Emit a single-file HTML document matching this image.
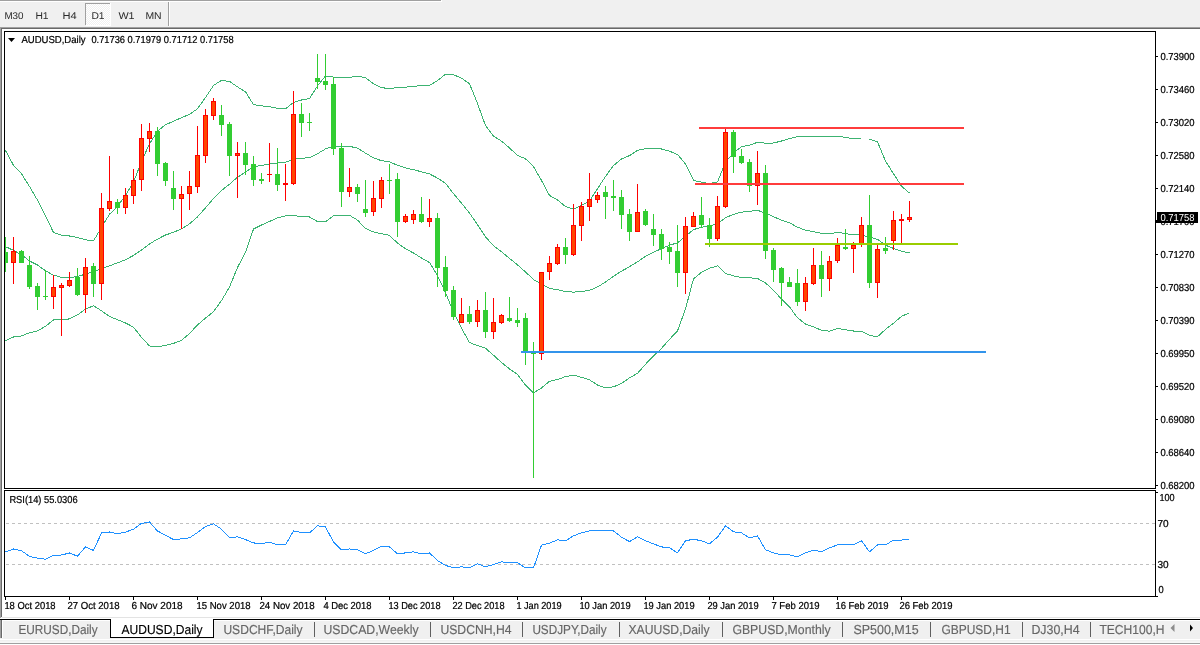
<!DOCTYPE html>
<html><head><meta charset="utf-8"><title>AUDUSD,Daily</title>
<style>
html,body{margin:0;padding:0;width:1200px;height:645px;overflow:hidden;background:#f0f0f0;}
svg{display:block;}
text{white-space:pre;}
</style></head><body>
<svg width="1200" height="645" viewBox="0 0 1200 645" text-rendering="geometricPrecision">
<rect x="0" y="0" width="1200" height="645" fill="#f0f0f0"/>
<rect x="0" y="0" width="441" height="1" fill="#a0a0a0"/>
<rect x="0" y="1" width="442" height="1" fill="#ffffff"/>
<rect x="441" y="0" width="1" height="2" fill="#ffffff"/>
<defs><pattern id="dith" width="2" height="2" patternUnits="userSpaceOnUse"><rect width="2" height="2" fill="#f0f0f0"/><rect width="1" height="1" fill="#ffffff"/><rect x="1" y="1" width="1" height="1" fill="#ffffff"/></pattern></defs>
<rect x="85" y="3" width="25" height="22" fill="url(#dith)"/>
<rect x="85" y="3" width="25" height="1" fill="#a0a0a0"/>
<rect x="85" y="3" width="1" height="22" fill="#a0a0a0"/>
<rect x="86" y="25" width="25" height="1" fill="#ffffff"/>
<rect x="110" y="3" width="1" height="23" fill="#ffffff"/>
<rect x="168" y="2" width="1" height="24" fill="#a0a0a0"/>
<rect x="169" y="2" width="1" height="24" fill="#ffffff"/>
<text x="4.40" y="18.50" font-size="9.8" fill="#2a2a2a" font-family="Liberation Sans, sans-serif" textLength="19.20" lengthAdjust="spacingAndGlyphs">M30</text>
<text x="35.40" y="18.50" font-size="9.8" fill="#2a2a2a" font-family="Liberation Sans, sans-serif" textLength="13.20" lengthAdjust="spacingAndGlyphs">H1</text>
<text x="62.40" y="18.50" font-size="9.8" fill="#2a2a2a" font-family="Liberation Sans, sans-serif" textLength="14.20" lengthAdjust="spacingAndGlyphs">H4</text>
<text x="91.40" y="18.50" font-size="9.8" fill="#2a2a2a" font-family="Liberation Sans, sans-serif" textLength="13.20" lengthAdjust="spacingAndGlyphs">D1</text>
<text x="118.40" y="18.50" font-size="9.8" fill="#2a2a2a" font-family="Liberation Sans, sans-serif" textLength="16.20" lengthAdjust="spacingAndGlyphs">W1</text>
<text x="145.40" y="18.50" font-size="9.8" fill="#2a2a2a" font-family="Liberation Sans, sans-serif" textLength="16.20" lengthAdjust="spacingAndGlyphs">MN</text>
<rect x="0" y="27" width="1200" height="1" fill="#a0a0a0"/>
<rect x="1" y="28" width="1199" height="1" fill="#696969"/>
<rect x="0" y="27" width="1" height="611" fill="#a0a0a0"/>
<rect x="1" y="28" width="1" height="589" fill="#696969"/>
<rect x="2" y="29" width="1198" height="588" fill="#ffffff"/>
<rect x="2" y="617" width="1198" height="1" fill="#e3e3e3"/>
<rect x="0" y="618" width="1200" height="1" fill="#ffffff"/>
<rect x="4" y="31" width="1152" height="1" fill="#000"/>
<rect x="4" y="488" width="1152" height="1" fill="#000"/>
<rect x="4" y="31" width="1" height="458" fill="#000"/>
<rect x="1155" y="31" width="1" height="458" fill="#000"/>
<rect x="4" y="490" width="1152" height="1" fill="#000"/>
<rect x="4" y="596" width="1152" height="1" fill="#000"/>
<rect x="4" y="490" width="1" height="107" fill="#000"/>
<rect x="1155" y="490" width="1" height="107" fill="#000"/>
<defs><clipPath id="mc"><rect x="5" y="32" width="1150" height="456"/></clipPath><clipPath id="rc"><rect x="5" y="491" width="1150" height="105"/></clipPath></defs>
<g clip-path="url(#mc)" shape-rendering="crispEdges">
<polyline points="5.5,150.5 13.5,165.3 21.5,173.8 29.5,186.5 37.5,200.2 45.5,216.0 53.5,232.5 61.5,235.3 69.5,236.0 77.5,237.5 85.5,239.8 93.5,240.9 101.5,227.5 109.5,214.2 117.5,206.5 125.5,195.4 133.5,182.2 141.5,161.5 149.5,143.9 157.5,131.2 165.5,124.7 173.5,121.3 181.5,117.6 189.5,114.4 197.5,108.8 205.5,97.6 213.5,85.4 221.5,80.4 229.5,81.4 237.5,86.9 245.5,91.8 253.5,104.7 261.5,105.9 269.5,106.7 277.5,108.2 285.5,108.8 293.5,102.4 301.5,100.0 309.5,98.6 317.5,85.9 325.5,76.0 333.5,77.1 341.5,77.4 349.5,77.3 357.5,76.3 365.5,77.6 373.5,83.9 381.5,87.7 389.5,88.5 397.5,87.6 405.5,87.1 413.5,86.4 421.5,85.5 429.5,85.4 437.5,80.6 445.5,74.3 453.5,74.8 461.5,78.1 469.5,83.7 477.5,103.5 485.5,125.5 493.5,136.0 501.5,141.1 509.5,148.0 517.5,155.4 525.5,158.8 533.5,166.5 541.5,180.5 549.5,195.5 557.5,199.9 565.5,206.6 573.5,209.1 581.5,205.5 589.5,201.0 597.5,188.7 605.5,176.4 613.5,165.6 621.5,158.9 629.5,155.6 637.5,150.3 645.5,148.6 653.5,148.2 661.5,149.0 669.5,151.2 677.5,154.5 685.5,163.9 693.5,180.4 701.5,182.1 709.5,183.6 717.5,182.0 725.5,162.2 733.5,152.8 741.5,146.7 749.5,145.1 757.5,142.3 765.5,143.2 773.5,143.0 781.5,141.0 789.5,138.7 797.5,136.7 805.5,136.4 813.5,136.7 821.5,136.2 829.5,136.3 837.5,136.4 845.5,137.3 853.5,138.9 861.5,139.0 869.5,139.0 877.5,142.0 885.5,161.1 893.5,173.7 901.5,186.2 909.5,193.0" fill="none" stroke="#3cb371" stroke-width="1"/>
<polyline points="5.5,246.6 13.5,250.4 21.5,254.7 29.5,261.0 37.5,265.0 45.5,270.8 53.5,275.2 61.5,277.3 69.5,277.8 77.5,276.5 85.5,274.1 93.5,271.4 101.5,268.8 109.5,265.8 117.5,262.8 125.5,259.8 133.5,255.4 141.5,250.1 149.5,243.9 157.5,239.1 165.5,235.0 173.5,232.3 181.5,228.9 189.5,223.9 197.5,216.9 205.5,207.8 213.5,198.6 221.5,190.5 229.5,184.2 237.5,177.2 245.5,172.1 253.5,166.8 261.5,165.4 269.5,164.1 277.5,162.9 285.5,162.3 293.5,159.1 301.5,158.2 309.5,157.8 317.5,153.7 325.5,148.9 333.5,146.4 341.5,146.2 349.5,146.3 357.5,148.2 365.5,153.1 373.5,157.9 381.5,160.7 389.5,161.9 397.5,165.3 405.5,167.9 413.5,169.7 421.5,171.8 429.5,173.9 437.5,178.1 445.5,183.4 453.5,193.6 461.5,203.2 469.5,213.1 477.5,224.6 485.5,236.9 493.5,245.6 501.5,251.8 509.5,258.4 517.5,264.9 525.5,271.9 533.5,279.6 541.5,284.2 549.5,288.4 557.5,289.7 565.5,291.6 573.5,292.1 581.5,291.4 589.5,290.4 597.5,286.9 605.5,282.1 613.5,276.2 621.5,271.2 629.5,266.7 637.5,261.8 645.5,256.4 653.5,252.1 661.5,248.7 669.5,245.2 677.5,242.8 685.5,236.4 693.5,229.6 701.5,227.2 709.5,225.9 717.5,223.9 725.5,217.8 733.5,214.3 741.5,212.2 749.5,211.4 757.5,210.3 765.5,213.1 773.5,216.7 781.5,220.1 789.5,222.8 797.5,227.2 805.5,230.2 813.5,231.8 821.5,233.2 829.5,233.8 837.5,232.4 845.5,233.5 853.5,234.9 861.5,235.0 869.5,237.2 877.5,239.3 885.5,245.2 893.5,248.4 901.5,251.3 909.5,252.9" fill="none" stroke="#3cb371" stroke-width="1"/>
<polyline points="5.5,340.7 13.5,337.0 21.5,335.9 29.5,332.8 37.5,330.9 45.5,326.3 53.5,320.0 61.5,319.8 69.5,318.9 77.5,314.9 85.5,309.1 93.5,305.7 101.5,310.8 109.5,316.4 117.5,319.7 125.5,323.0 133.5,327.1 141.5,337.5 149.5,345.9 157.5,347.0 165.5,345.3 173.5,343.4 181.5,340.3 189.5,333.5 197.5,325.0 205.5,318.1 213.5,311.7 221.5,300.6 229.5,287.1 237.5,267.5 245.5,252.3 253.5,229.0 261.5,225.0 269.5,221.5 277.5,217.7 285.5,215.9 293.5,215.7 301.5,216.5 309.5,217.0 317.5,221.5 325.5,221.8 333.5,215.7 341.5,215.1 349.5,215.3 357.5,220.1 365.5,228.5 373.5,231.9 381.5,233.7 389.5,235.4 397.5,243.1 405.5,248.8 413.5,253.0 421.5,258.0 429.5,262.5 437.5,275.6 445.5,292.6 453.5,312.3 461.5,328.2 469.5,342.5 477.5,345.6 485.5,348.3 493.5,355.2 501.5,362.5 509.5,368.9 517.5,374.4 525.5,385.0 533.5,392.8 541.5,388.0 549.5,381.3 557.5,379.5 565.5,376.6 573.5,375.2 581.5,377.3 589.5,379.9 597.5,385.0 605.5,387.9 613.5,386.8 621.5,383.5 629.5,377.8 637.5,373.3 645.5,364.3 653.5,355.9 661.5,348.4 669.5,339.3 677.5,331.0 685.5,309.0 693.5,278.8 701.5,272.3 709.5,268.3 717.5,265.8 725.5,273.4 733.5,275.9 741.5,277.6 749.5,277.8 757.5,278.4 765.5,282.9 773.5,290.3 781.5,299.1 789.5,306.9 797.5,317.8 805.5,324.0 813.5,326.8 821.5,330.3 829.5,331.2 837.5,328.4 845.5,329.7 853.5,331.0 861.5,331.0 869.5,335.4 877.5,336.7 885.5,329.4 893.5,323.2 901.5,316.4 909.5,312.8" fill="none" stroke="#3cb371" stroke-width="1"/>
<rect x="5" y="237" width="1" height="35" fill="#32cd32"/>
<rect x="3" y="252" width="5" height="11" fill="#32cd32"/>
<rect x="13" y="237" width="1" height="47" fill="#ff0000"/>
<rect x="11" y="251" width="5" height="12" fill="#ff0000"/>
<rect x="12" y="252" width="3" height="10" fill="#ff4500"/>
<rect x="21" y="250" width="1" height="13" fill="#32cd32"/>
<rect x="19" y="251" width="5" height="12" fill="#32cd32"/>
<rect x="29" y="256" width="1" height="33" fill="#32cd32"/>
<rect x="27" y="265" width="5" height="22" fill="#32cd32"/>
<rect x="37" y="283" width="1" height="27" fill="#32cd32"/>
<rect x="35" y="286" width="5" height="11" fill="#32cd32"/>
<rect x="45" y="270" width="1" height="30" fill="#32cd32"/>
<rect x="43" y="296" width="5" height="1" fill="#32cd32"/>
<rect x="53" y="275" width="1" height="34" fill="#ff0000"/>
<rect x="51" y="287" width="5" height="10" fill="#ff0000"/>
<rect x="52" y="288" width="3" height="8" fill="#ff4500"/>
<rect x="61" y="283" width="1" height="53" fill="#ff0000"/>
<rect x="59" y="285" width="5" height="3" fill="#ff0000"/>
<rect x="60" y="286" width="3" height="1" fill="#ff4500"/>
<rect x="69" y="272" width="1" height="15" fill="#ff0000"/>
<rect x="67" y="280" width="5" height="6" fill="#ff0000"/>
<rect x="68" y="281" width="3" height="4" fill="#ff4500"/>
<rect x="77" y="268" width="1" height="28" fill="#32cd32"/>
<rect x="75" y="277" width="5" height="18" fill="#32cd32"/>
<rect x="85" y="258" width="1" height="55" fill="#ff0000"/>
<rect x="83" y="267" width="5" height="28" fill="#ff0000"/>
<rect x="84" y="268" width="3" height="26" fill="#ff4500"/>
<rect x="93" y="263" width="1" height="34" fill="#32cd32"/>
<rect x="91" y="266" width="5" height="18" fill="#32cd32"/>
<rect x="101" y="193" width="1" height="107" fill="#ff0000"/>
<rect x="99" y="208" width="5" height="76" fill="#ff0000"/>
<rect x="100" y="209" width="3" height="74" fill="#ff4500"/>
<rect x="109" y="156" width="1" height="55" fill="#ff0000"/>
<rect x="107" y="201" width="5" height="8" fill="#ff0000"/>
<rect x="108" y="202" width="3" height="6" fill="#ff4500"/>
<rect x="117" y="199" width="1" height="15" fill="#32cd32"/>
<rect x="115" y="202" width="5" height="6" fill="#32cd32"/>
<rect x="125" y="188" width="1" height="26" fill="#ff0000"/>
<rect x="123" y="195" width="5" height="13" fill="#ff0000"/>
<rect x="124" y="196" width="3" height="11" fill="#ff4500"/>
<rect x="133" y="169" width="1" height="35" fill="#ff0000"/>
<rect x="131" y="180" width="5" height="16" fill="#ff0000"/>
<rect x="132" y="181" width="3" height="14" fill="#ff4500"/>
<rect x="141" y="124" width="1" height="67" fill="#ff0000"/>
<rect x="139" y="138" width="5" height="42" fill="#ff0000"/>
<rect x="140" y="139" width="3" height="40" fill="#ff4500"/>
<rect x="149" y="123" width="1" height="29" fill="#ff0000"/>
<rect x="147" y="131" width="5" height="8" fill="#ff0000"/>
<rect x="148" y="132" width="3" height="6" fill="#ff4500"/>
<rect x="157" y="127" width="1" height="49" fill="#32cd32"/>
<rect x="155" y="131" width="5" height="33" fill="#32cd32"/>
<rect x="165" y="162" width="1" height="24" fill="#32cd32"/>
<rect x="163" y="163" width="5" height="18" fill="#32cd32"/>
<rect x="173" y="171" width="1" height="39" fill="#32cd32"/>
<rect x="171" y="188" width="5" height="11" fill="#32cd32"/>
<rect x="181" y="186" width="1" height="43" fill="#ff0000"/>
<rect x="179" y="194" width="5" height="5" fill="#ff0000"/>
<rect x="180" y="195" width="3" height="3" fill="#ff4500"/>
<rect x="189" y="171" width="1" height="39" fill="#ff0000"/>
<rect x="187" y="186" width="5" height="8" fill="#ff0000"/>
<rect x="188" y="187" width="3" height="6" fill="#ff4500"/>
<rect x="197" y="126" width="1" height="67" fill="#ff0000"/>
<rect x="195" y="155" width="5" height="32" fill="#ff0000"/>
<rect x="196" y="156" width="3" height="30" fill="#ff4500"/>
<rect x="205" y="109" width="1" height="54" fill="#ff0000"/>
<rect x="203" y="115" width="5" height="41" fill="#ff0000"/>
<rect x="204" y="116" width="3" height="39" fill="#ff4500"/>
<rect x="213" y="98" width="1" height="22" fill="#ff0000"/>
<rect x="211" y="101" width="5" height="15" fill="#ff0000"/>
<rect x="212" y="102" width="3" height="13" fill="#ff4500"/>
<rect x="221" y="105" width="1" height="31" fill="#32cd32"/>
<rect x="219" y="115" width="5" height="10" fill="#32cd32"/>
<rect x="229" y="122" width="1" height="54" fill="#32cd32"/>
<rect x="227" y="124" width="5" height="32" fill="#32cd32"/>
<rect x="237" y="142" width="1" height="56" fill="#ff0000"/>
<rect x="235" y="153" width="5" height="3" fill="#ff0000"/>
<rect x="236" y="154" width="3" height="1" fill="#ff4500"/>
<rect x="245" y="142" width="1" height="33" fill="#32cd32"/>
<rect x="243" y="153" width="5" height="12" fill="#32cd32"/>
<rect x="253" y="156" width="1" height="30" fill="#32cd32"/>
<rect x="251" y="164" width="5" height="16" fill="#32cd32"/>
<rect x="261" y="173" width="1" height="11" fill="#32cd32"/>
<rect x="259" y="179" width="5" height="2" fill="#32cd32"/>
<rect x="269" y="143" width="1" height="39" fill="#ff0000"/>
<rect x="267" y="174" width="5" height="1" fill="#ff0000"/>
<rect x="277" y="148" width="1" height="43" fill="#32cd32"/>
<rect x="275" y="174" width="5" height="11" fill="#32cd32"/>
<rect x="285" y="164" width="1" height="37" fill="#ff0000"/>
<rect x="283" y="183" width="5" height="2" fill="#ff0000"/>
<rect x="293" y="91" width="1" height="94" fill="#ff0000"/>
<rect x="291" y="114" width="5" height="70" fill="#ff0000"/>
<rect x="292" y="115" width="3" height="68" fill="#ff4500"/>
<rect x="301" y="103" width="1" height="34" fill="#32cd32"/>
<rect x="299" y="114" width="5" height="9" fill="#32cd32"/>
<rect x="309" y="113" width="1" height="18" fill="#32cd32"/>
<rect x="307" y="122" width="5" height="1" fill="#32cd32"/>
<rect x="317" y="54" width="1" height="35" fill="#32cd32"/>
<rect x="315" y="78" width="5" height="4" fill="#32cd32"/>
<rect x="325" y="54" width="1" height="36" fill="#32cd32"/>
<rect x="323" y="81" width="5" height="4" fill="#32cd32"/>
<rect x="333" y="77" width="1" height="78" fill="#32cd32"/>
<rect x="331" y="84" width="5" height="65" fill="#32cd32"/>
<rect x="341" y="143" width="1" height="64" fill="#32cd32"/>
<rect x="339" y="148" width="5" height="44" fill="#32cd32"/>
<rect x="349" y="168" width="1" height="29" fill="#ff0000"/>
<rect x="347" y="187" width="5" height="5" fill="#ff0000"/>
<rect x="348" y="188" width="3" height="3" fill="#ff4500"/>
<rect x="357" y="184" width="1" height="18" fill="#32cd32"/>
<rect x="355" y="187" width="5" height="7" fill="#32cd32"/>
<rect x="365" y="180" width="1" height="37" fill="#32cd32"/>
<rect x="363" y="209" width="5" height="4" fill="#32cd32"/>
<rect x="373" y="181" width="1" height="35" fill="#ff0000"/>
<rect x="371" y="198" width="5" height="14" fill="#ff0000"/>
<rect x="372" y="199" width="3" height="12" fill="#ff4500"/>
<rect x="381" y="177" width="1" height="31" fill="#ff0000"/>
<rect x="379" y="180" width="5" height="19" fill="#ff0000"/>
<rect x="380" y="181" width="3" height="17" fill="#ff4500"/>
<rect x="389" y="164" width="1" height="30" fill="#32cd32"/>
<rect x="387" y="180" width="5" height="1" fill="#32cd32"/>
<rect x="397" y="173" width="1" height="64" fill="#32cd32"/>
<rect x="395" y="179" width="5" height="43" fill="#32cd32"/>
<rect x="405" y="214" width="1" height="9" fill="#ff0000"/>
<rect x="403" y="216" width="5" height="6" fill="#ff0000"/>
<rect x="404" y="217" width="3" height="4" fill="#ff4500"/>
<rect x="413" y="210" width="1" height="14" fill="#ff0000"/>
<rect x="411" y="214" width="5" height="6" fill="#ff0000"/>
<rect x="412" y="215" width="3" height="4" fill="#ff4500"/>
<rect x="421" y="197" width="1" height="26" fill="#32cd32"/>
<rect x="419" y="214" width="5" height="8" fill="#32cd32"/>
<rect x="429" y="199" width="1" height="28" fill="#ff0000"/>
<rect x="427" y="218" width="5" height="4" fill="#ff0000"/>
<rect x="428" y="219" width="3" height="2" fill="#ff4500"/>
<rect x="437" y="213" width="1" height="74" fill="#32cd32"/>
<rect x="435" y="218" width="5" height="50" fill="#32cd32"/>
<rect x="445" y="256" width="1" height="41" fill="#32cd32"/>
<rect x="443" y="267" width="5" height="24" fill="#32cd32"/>
<rect x="453" y="286" width="1" height="34" fill="#32cd32"/>
<rect x="451" y="290" width="5" height="27" fill="#32cd32"/>
<rect x="461" y="298" width="1" height="25" fill="#ff0000"/>
<rect x="459" y="314" width="5" height="9" fill="#ff0000"/>
<rect x="460" y="315" width="3" height="7" fill="#ff4500"/>
<rect x="469" y="306" width="1" height="18" fill="#32cd32"/>
<rect x="467" y="314" width="5" height="8" fill="#32cd32"/>
<rect x="477" y="300" width="1" height="27" fill="#ff0000"/>
<rect x="475" y="310" width="5" height="12" fill="#ff0000"/>
<rect x="476" y="311" width="3" height="10" fill="#ff4500"/>
<rect x="485" y="292" width="1" height="46" fill="#32cd32"/>
<rect x="483" y="310" width="5" height="22" fill="#32cd32"/>
<rect x="493" y="298" width="1" height="41" fill="#ff0000"/>
<rect x="491" y="322" width="5" height="10" fill="#ff0000"/>
<rect x="492" y="323" width="3" height="8" fill="#ff4500"/>
<rect x="501" y="314" width="1" height="10" fill="#ff0000"/>
<rect x="499" y="315" width="5" height="8" fill="#ff0000"/>
<rect x="500" y="316" width="3" height="6" fill="#ff4500"/>
<rect x="509" y="297" width="1" height="25" fill="#32cd32"/>
<rect x="507" y="318" width="5" height="3" fill="#32cd32"/>
<rect x="517" y="308" width="1" height="19" fill="#32cd32"/>
<rect x="515" y="320" width="5" height="3" fill="#32cd32"/>
<rect x="525" y="313" width="1" height="52" fill="#32cd32"/>
<rect x="523" y="318" width="5" height="35" fill="#32cd32"/>
<rect x="533" y="342" width="1" height="136" fill="#32cd32"/>
<rect x="531" y="353" width="5" height="1" fill="#32cd32"/>
<rect x="541" y="272" width="1" height="88" fill="#ff0000"/>
<rect x="539" y="272" width="5" height="82" fill="#ff0000"/>
<rect x="540" y="273" width="3" height="80" fill="#ff4500"/>
<rect x="549" y="256" width="1" height="24" fill="#ff0000"/>
<rect x="547" y="263" width="5" height="9" fill="#ff0000"/>
<rect x="548" y="264" width="3" height="7" fill="#ff4500"/>
<rect x="557" y="244" width="1" height="21" fill="#ff0000"/>
<rect x="555" y="247" width="5" height="17" fill="#ff0000"/>
<rect x="556" y="248" width="3" height="15" fill="#ff4500"/>
<rect x="565" y="238" width="1" height="26" fill="#32cd32"/>
<rect x="563" y="247" width="5" height="8" fill="#32cd32"/>
<rect x="573" y="204" width="1" height="52" fill="#ff0000"/>
<rect x="571" y="225" width="5" height="30" fill="#ff0000"/>
<rect x="572" y="226" width="3" height="28" fill="#ff4500"/>
<rect x="581" y="202" width="1" height="39" fill="#ff0000"/>
<rect x="579" y="206" width="5" height="20" fill="#ff0000"/>
<rect x="580" y="207" width="3" height="18" fill="#ff4500"/>
<rect x="589" y="173" width="1" height="48" fill="#ff0000"/>
<rect x="587" y="199" width="5" height="8" fill="#ff0000"/>
<rect x="588" y="200" width="3" height="6" fill="#ff4500"/>
<rect x="597" y="192" width="1" height="11" fill="#ff0000"/>
<rect x="595" y="195" width="5" height="5" fill="#ff0000"/>
<rect x="596" y="196" width="3" height="3" fill="#ff4500"/>
<rect x="605" y="186" width="1" height="33" fill="#32cd32"/>
<rect x="603" y="192" width="5" height="5" fill="#32cd32"/>
<rect x="613" y="180" width="1" height="31" fill="#32cd32"/>
<rect x="611" y="196" width="5" height="2" fill="#32cd32"/>
<rect x="621" y="190" width="1" height="39" fill="#32cd32"/>
<rect x="619" y="197" width="5" height="18" fill="#32cd32"/>
<rect x="629" y="209" width="1" height="32" fill="#32cd32"/>
<rect x="627" y="214" width="5" height="18" fill="#32cd32"/>
<rect x="637" y="184" width="1" height="48" fill="#ff0000"/>
<rect x="635" y="212" width="5" height="20" fill="#ff0000"/>
<rect x="636" y="213" width="3" height="18" fill="#ff4500"/>
<rect x="645" y="209" width="1" height="17" fill="#32cd32"/>
<rect x="643" y="211" width="5" height="14" fill="#32cd32"/>
<rect x="653" y="214" width="1" height="32" fill="#32cd32"/>
<rect x="651" y="229" width="5" height="6" fill="#32cd32"/>
<rect x="661" y="229" width="1" height="31" fill="#32cd32"/>
<rect x="659" y="234" width="5" height="15" fill="#32cd32"/>
<rect x="669" y="242" width="1" height="22" fill="#32cd32"/>
<rect x="667" y="247" width="5" height="5" fill="#32cd32"/>
<rect x="677" y="225" width="1" height="62" fill="#32cd32"/>
<rect x="675" y="251" width="5" height="22" fill="#32cd32"/>
<rect x="685" y="217" width="1" height="77" fill="#ff0000"/>
<rect x="683" y="226" width="5" height="47" fill="#ff0000"/>
<rect x="684" y="227" width="3" height="45" fill="#ff4500"/>
<rect x="693" y="212" width="1" height="15" fill="#ff0000"/>
<rect x="691" y="216" width="5" height="11" fill="#ff0000"/>
<rect x="692" y="217" width="3" height="9" fill="#ff4500"/>
<rect x="701" y="197" width="1" height="31" fill="#32cd32"/>
<rect x="699" y="215" width="5" height="10" fill="#32cd32"/>
<rect x="709" y="218" width="1" height="29" fill="#32cd32"/>
<rect x="707" y="225" width="5" height="14" fill="#32cd32"/>
<rect x="717" y="196" width="1" height="45" fill="#ff0000"/>
<rect x="715" y="206" width="5" height="33" fill="#ff0000"/>
<rect x="716" y="207" width="3" height="31" fill="#ff4500"/>
<rect x="725" y="129" width="1" height="79" fill="#ff0000"/>
<rect x="723" y="132" width="5" height="75" fill="#ff0000"/>
<rect x="724" y="133" width="3" height="73" fill="#ff4500"/>
<rect x="733" y="130" width="1" height="43" fill="#32cd32"/>
<rect x="731" y="132" width="5" height="25" fill="#32cd32"/>
<rect x="741" y="149" width="1" height="15" fill="#32cd32"/>
<rect x="739" y="156" width="5" height="7" fill="#32cd32"/>
<rect x="749" y="159" width="1" height="33" fill="#32cd32"/>
<rect x="747" y="162" width="5" height="24" fill="#32cd32"/>
<rect x="757" y="151" width="1" height="54" fill="#ff0000"/>
<rect x="755" y="173" width="5" height="13" fill="#ff0000"/>
<rect x="756" y="174" width="3" height="11" fill="#ff4500"/>
<rect x="765" y="165" width="1" height="94" fill="#32cd32"/>
<rect x="763" y="173" width="5" height="78" fill="#32cd32"/>
<rect x="773" y="248" width="1" height="34" fill="#32cd32"/>
<rect x="771" y="250" width="5" height="20" fill="#32cd32"/>
<rect x="781" y="267" width="1" height="39" fill="#32cd32"/>
<rect x="779" y="268" width="5" height="15" fill="#32cd32"/>
<rect x="789" y="277" width="1" height="10" fill="#32cd32"/>
<rect x="787" y="282" width="5" height="5" fill="#32cd32"/>
<rect x="797" y="269" width="1" height="37" fill="#32cd32"/>
<rect x="795" y="283" width="5" height="19" fill="#32cd32"/>
<rect x="805" y="277" width="1" height="34" fill="#ff0000"/>
<rect x="803" y="283" width="5" height="19" fill="#ff0000"/>
<rect x="804" y="284" width="3" height="17" fill="#ff4500"/>
<rect x="813" y="248" width="1" height="37" fill="#ff0000"/>
<rect x="811" y="265" width="5" height="19" fill="#ff0000"/>
<rect x="812" y="266" width="3" height="17" fill="#ff4500"/>
<rect x="821" y="251" width="1" height="46" fill="#32cd32"/>
<rect x="819" y="265" width="5" height="14" fill="#32cd32"/>
<rect x="829" y="256" width="1" height="35" fill="#ff0000"/>
<rect x="827" y="261" width="5" height="18" fill="#ff0000"/>
<rect x="828" y="262" width="3" height="16" fill="#ff4500"/>
<rect x="837" y="238" width="1" height="25" fill="#ff0000"/>
<rect x="835" y="245" width="5" height="16" fill="#ff0000"/>
<rect x="836" y="246" width="3" height="14" fill="#ff4500"/>
<rect x="845" y="229" width="1" height="21" fill="#32cd32"/>
<rect x="843" y="247" width="5" height="2" fill="#32cd32"/>
<rect x="853" y="242" width="1" height="31" fill="#ff0000"/>
<rect x="851" y="245" width="5" height="4" fill="#ff0000"/>
<rect x="852" y="246" width="3" height="2" fill="#ff4500"/>
<rect x="861" y="217" width="1" height="30" fill="#ff0000"/>
<rect x="859" y="225" width="5" height="19" fill="#ff0000"/>
<rect x="860" y="226" width="3" height="17" fill="#ff4500"/>
<rect x="869" y="195" width="1" height="93" fill="#32cd32"/>
<rect x="867" y="225" width="5" height="58" fill="#32cd32"/>
<rect x="877" y="245" width="1" height="53" fill="#ff0000"/>
<rect x="875" y="249" width="5" height="34" fill="#ff0000"/>
<rect x="876" y="250" width="3" height="32" fill="#ff4500"/>
<rect x="885" y="237" width="1" height="17" fill="#32cd32"/>
<rect x="883" y="248" width="5" height="3" fill="#32cd32"/>
<rect x="893" y="211" width="1" height="39" fill="#ff0000"/>
<rect x="891" y="220" width="5" height="21" fill="#ff0000"/>
<rect x="892" y="221" width="3" height="19" fill="#ff4500"/>
<rect x="901" y="214" width="1" height="29" fill="#ff0000"/>
<rect x="899" y="219" width="5" height="2" fill="#ff0000"/>
<rect x="909" y="201" width="1" height="21" fill="#ff0000"/>
<rect x="907" y="217" width="5" height="3" fill="#ff0000"/>
<rect x="908" y="218" width="3" height="1" fill="#ff4500"/>
<rect x="699" y="127" width="265" height="2" fill="#ff3c3c"/>
<rect x="695" y="183" width="269" height="2" fill="#ff3c3c"/>
<rect x="705" y="243" width="253" height="2" fill="#9acd00"/>
<rect x="521" y="351" width="465" height="2" fill="#3294eb"/>
</g>
<polygon points="8,38 15,38 11.5,42" fill="#000"/>
<text x="21.40" y="43.00" font-size="10.1" fill="#000" stroke="#000" stroke-width="0.22" font-family="Liberation Sans, sans-serif" textLength="64.20" lengthAdjust="spacingAndGlyphs">AUDUSD,Daily</text>
<text x="91.40" y="43.00" font-size="10.1" fill="#000" stroke="#000" stroke-width="0.22" font-family="Liberation Sans, sans-serif" textLength="142.20" lengthAdjust="spacingAndGlyphs">0.71736 0.71979 0.71712 0.71758</text>
<rect x="1156" y="56" width="2" height="1" fill="#000"/>
<text x="1160.40" y="60.00" font-size="10.1" fill="#000" stroke="#000" stroke-width="0.22" font-family="Liberation Sans, sans-serif" textLength="34.20" lengthAdjust="spacingAndGlyphs">0.73900</text>
<rect x="1156" y="89" width="2" height="1" fill="#000"/>
<text x="1160.40" y="93.00" font-size="10.1" fill="#000" stroke="#000" stroke-width="0.22" font-family="Liberation Sans, sans-serif" textLength="34.20" lengthAdjust="spacingAndGlyphs">0.73460</text>
<rect x="1156" y="122" width="2" height="1" fill="#000"/>
<text x="1160.40" y="126.00" font-size="10.1" fill="#000" stroke="#000" stroke-width="0.22" font-family="Liberation Sans, sans-serif" textLength="34.20" lengthAdjust="spacingAndGlyphs">0.73020</text>
<rect x="1156" y="155" width="2" height="1" fill="#000"/>
<text x="1160.40" y="159.00" font-size="10.1" fill="#000" stroke="#000" stroke-width="0.22" font-family="Liberation Sans, sans-serif" textLength="34.20" lengthAdjust="spacingAndGlyphs">0.72580</text>
<rect x="1156" y="188" width="2" height="1" fill="#000"/>
<text x="1160.40" y="192.00" font-size="10.1" fill="#000" stroke="#000" stroke-width="0.22" font-family="Liberation Sans, sans-serif" textLength="34.20" lengthAdjust="spacingAndGlyphs">0.72140</text>
<rect x="1156" y="221" width="2" height="1" fill="#000"/>
<text x="1160.40" y="225.00" font-size="10.1" fill="#000" stroke="#000" stroke-width="0.22" font-family="Liberation Sans, sans-serif" textLength="34.20" lengthAdjust="spacingAndGlyphs">0.71700</text>
<rect x="1156" y="254" width="2" height="1" fill="#000"/>
<text x="1160.40" y="258.00" font-size="10.1" fill="#000" stroke="#000" stroke-width="0.22" font-family="Liberation Sans, sans-serif" textLength="34.20" lengthAdjust="spacingAndGlyphs">0.71270</text>
<rect x="1156" y="287" width="2" height="1" fill="#000"/>
<text x="1160.40" y="291.00" font-size="10.1" fill="#000" stroke="#000" stroke-width="0.22" font-family="Liberation Sans, sans-serif" textLength="34.20" lengthAdjust="spacingAndGlyphs">0.70830</text>
<rect x="1156" y="320" width="2" height="1" fill="#000"/>
<text x="1160.40" y="324.00" font-size="10.1" fill="#000" stroke="#000" stroke-width="0.22" font-family="Liberation Sans, sans-serif" textLength="34.20" lengthAdjust="spacingAndGlyphs">0.70390</text>
<rect x="1156" y="353" width="2" height="1" fill="#000"/>
<text x="1160.40" y="357.00" font-size="10.1" fill="#000" stroke="#000" stroke-width="0.22" font-family="Liberation Sans, sans-serif" textLength="34.20" lengthAdjust="spacingAndGlyphs">0.69950</text>
<rect x="1156" y="386" width="2" height="1" fill="#000"/>
<text x="1160.40" y="390.00" font-size="10.1" fill="#000" stroke="#000" stroke-width="0.22" font-family="Liberation Sans, sans-serif" textLength="34.20" lengthAdjust="spacingAndGlyphs">0.69520</text>
<rect x="1156" y="419" width="2" height="1" fill="#000"/>
<text x="1160.40" y="423.00" font-size="10.1" fill="#000" stroke="#000" stroke-width="0.22" font-family="Liberation Sans, sans-serif" textLength="34.20" lengthAdjust="spacingAndGlyphs">0.69080</text>
<rect x="1156" y="452" width="2" height="1" fill="#000"/>
<text x="1160.40" y="456.00" font-size="10.1" fill="#000" stroke="#000" stroke-width="0.22" font-family="Liberation Sans, sans-serif" textLength="34.20" lengthAdjust="spacingAndGlyphs">0.68640</text>
<rect x="1156" y="485" width="2" height="1" fill="#000"/>
<text x="1160.40" y="489.00" font-size="10.1" fill="#000" stroke="#000" stroke-width="0.22" font-family="Liberation Sans, sans-serif" textLength="34.20" lengthAdjust="spacingAndGlyphs">0.68200</text>
<rect x="1157" y="212" width="41" height="11" fill="#000"/>
<rect x="1156" y="220" width="1" height="3" fill="#000"/>
<text x="1160.40" y="221.00" font-size="10.1" fill="#fff" font-family="Liberation Sans, sans-serif" textLength="34.20" lengthAdjust="spacingAndGlyphs">0.71758</text>
<g clip-path="url(#rc)" shape-rendering="crispEdges">
<rect x="6" y="523" width="3" height="1" fill="#c0c0c0"/>
<rect x="12" y="523" width="3" height="1" fill="#c0c0c0"/>
<rect x="18" y="523" width="3" height="1" fill="#c0c0c0"/>
<rect x="24" y="523" width="3" height="1" fill="#c0c0c0"/>
<rect x="30" y="523" width="3" height="1" fill="#c0c0c0"/>
<rect x="36" y="523" width="3" height="1" fill="#c0c0c0"/>
<rect x="42" y="523" width="3" height="1" fill="#c0c0c0"/>
<rect x="48" y="523" width="3" height="1" fill="#c0c0c0"/>
<rect x="54" y="523" width="3" height="1" fill="#c0c0c0"/>
<rect x="60" y="523" width="3" height="1" fill="#c0c0c0"/>
<rect x="66" y="523" width="3" height="1" fill="#c0c0c0"/>
<rect x="72" y="523" width="3" height="1" fill="#c0c0c0"/>
<rect x="78" y="523" width="3" height="1" fill="#c0c0c0"/>
<rect x="84" y="523" width="3" height="1" fill="#c0c0c0"/>
<rect x="90" y="523" width="3" height="1" fill="#c0c0c0"/>
<rect x="96" y="523" width="3" height="1" fill="#c0c0c0"/>
<rect x="102" y="523" width="3" height="1" fill="#c0c0c0"/>
<rect x="108" y="523" width="3" height="1" fill="#c0c0c0"/>
<rect x="114" y="523" width="3" height="1" fill="#c0c0c0"/>
<rect x="120" y="523" width="3" height="1" fill="#c0c0c0"/>
<rect x="126" y="523" width="3" height="1" fill="#c0c0c0"/>
<rect x="132" y="523" width="3" height="1" fill="#c0c0c0"/>
<rect x="138" y="523" width="3" height="1" fill="#c0c0c0"/>
<rect x="144" y="523" width="3" height="1" fill="#c0c0c0"/>
<rect x="150" y="523" width="3" height="1" fill="#c0c0c0"/>
<rect x="156" y="523" width="3" height="1" fill="#c0c0c0"/>
<rect x="162" y="523" width="3" height="1" fill="#c0c0c0"/>
<rect x="168" y="523" width="3" height="1" fill="#c0c0c0"/>
<rect x="174" y="523" width="3" height="1" fill="#c0c0c0"/>
<rect x="180" y="523" width="3" height="1" fill="#c0c0c0"/>
<rect x="186" y="523" width="3" height="1" fill="#c0c0c0"/>
<rect x="192" y="523" width="3" height="1" fill="#c0c0c0"/>
<rect x="198" y="523" width="3" height="1" fill="#c0c0c0"/>
<rect x="204" y="523" width="3" height="1" fill="#c0c0c0"/>
<rect x="210" y="523" width="3" height="1" fill="#c0c0c0"/>
<rect x="216" y="523" width="3" height="1" fill="#c0c0c0"/>
<rect x="222" y="523" width="3" height="1" fill="#c0c0c0"/>
<rect x="228" y="523" width="3" height="1" fill="#c0c0c0"/>
<rect x="234" y="523" width="3" height="1" fill="#c0c0c0"/>
<rect x="240" y="523" width="3" height="1" fill="#c0c0c0"/>
<rect x="246" y="523" width="3" height="1" fill="#c0c0c0"/>
<rect x="252" y="523" width="3" height="1" fill="#c0c0c0"/>
<rect x="258" y="523" width="3" height="1" fill="#c0c0c0"/>
<rect x="264" y="523" width="3" height="1" fill="#c0c0c0"/>
<rect x="270" y="523" width="3" height="1" fill="#c0c0c0"/>
<rect x="276" y="523" width="3" height="1" fill="#c0c0c0"/>
<rect x="282" y="523" width="3" height="1" fill="#c0c0c0"/>
<rect x="288" y="523" width="3" height="1" fill="#c0c0c0"/>
<rect x="294" y="523" width="3" height="1" fill="#c0c0c0"/>
<rect x="300" y="523" width="3" height="1" fill="#c0c0c0"/>
<rect x="306" y="523" width="3" height="1" fill="#c0c0c0"/>
<rect x="312" y="523" width="3" height="1" fill="#c0c0c0"/>
<rect x="318" y="523" width="3" height="1" fill="#c0c0c0"/>
<rect x="324" y="523" width="3" height="1" fill="#c0c0c0"/>
<rect x="330" y="523" width="3" height="1" fill="#c0c0c0"/>
<rect x="336" y="523" width="3" height="1" fill="#c0c0c0"/>
<rect x="342" y="523" width="3" height="1" fill="#c0c0c0"/>
<rect x="348" y="523" width="3" height="1" fill="#c0c0c0"/>
<rect x="354" y="523" width="3" height="1" fill="#c0c0c0"/>
<rect x="360" y="523" width="3" height="1" fill="#c0c0c0"/>
<rect x="366" y="523" width="3" height="1" fill="#c0c0c0"/>
<rect x="372" y="523" width="3" height="1" fill="#c0c0c0"/>
<rect x="378" y="523" width="3" height="1" fill="#c0c0c0"/>
<rect x="384" y="523" width="3" height="1" fill="#c0c0c0"/>
<rect x="390" y="523" width="3" height="1" fill="#c0c0c0"/>
<rect x="396" y="523" width="3" height="1" fill="#c0c0c0"/>
<rect x="402" y="523" width="3" height="1" fill="#c0c0c0"/>
<rect x="408" y="523" width="3" height="1" fill="#c0c0c0"/>
<rect x="414" y="523" width="3" height="1" fill="#c0c0c0"/>
<rect x="420" y="523" width="3" height="1" fill="#c0c0c0"/>
<rect x="426" y="523" width="3" height="1" fill="#c0c0c0"/>
<rect x="432" y="523" width="3" height="1" fill="#c0c0c0"/>
<rect x="438" y="523" width="3" height="1" fill="#c0c0c0"/>
<rect x="444" y="523" width="3" height="1" fill="#c0c0c0"/>
<rect x="450" y="523" width="3" height="1" fill="#c0c0c0"/>
<rect x="456" y="523" width="3" height="1" fill="#c0c0c0"/>
<rect x="462" y="523" width="3" height="1" fill="#c0c0c0"/>
<rect x="468" y="523" width="3" height="1" fill="#c0c0c0"/>
<rect x="474" y="523" width="3" height="1" fill="#c0c0c0"/>
<rect x="480" y="523" width="3" height="1" fill="#c0c0c0"/>
<rect x="486" y="523" width="3" height="1" fill="#c0c0c0"/>
<rect x="492" y="523" width="3" height="1" fill="#c0c0c0"/>
<rect x="498" y="523" width="3" height="1" fill="#c0c0c0"/>
<rect x="504" y="523" width="3" height="1" fill="#c0c0c0"/>
<rect x="510" y="523" width="3" height="1" fill="#c0c0c0"/>
<rect x="516" y="523" width="3" height="1" fill="#c0c0c0"/>
<rect x="522" y="523" width="3" height="1" fill="#c0c0c0"/>
<rect x="528" y="523" width="3" height="1" fill="#c0c0c0"/>
<rect x="534" y="523" width="3" height="1" fill="#c0c0c0"/>
<rect x="540" y="523" width="3" height="1" fill="#c0c0c0"/>
<rect x="546" y="523" width="3" height="1" fill="#c0c0c0"/>
<rect x="552" y="523" width="3" height="1" fill="#c0c0c0"/>
<rect x="558" y="523" width="3" height="1" fill="#c0c0c0"/>
<rect x="564" y="523" width="3" height="1" fill="#c0c0c0"/>
<rect x="570" y="523" width="3" height="1" fill="#c0c0c0"/>
<rect x="576" y="523" width="3" height="1" fill="#c0c0c0"/>
<rect x="582" y="523" width="3" height="1" fill="#c0c0c0"/>
<rect x="588" y="523" width="3" height="1" fill="#c0c0c0"/>
<rect x="594" y="523" width="3" height="1" fill="#c0c0c0"/>
<rect x="600" y="523" width="3" height="1" fill="#c0c0c0"/>
<rect x="606" y="523" width="3" height="1" fill="#c0c0c0"/>
<rect x="612" y="523" width="3" height="1" fill="#c0c0c0"/>
<rect x="618" y="523" width="3" height="1" fill="#c0c0c0"/>
<rect x="624" y="523" width="3" height="1" fill="#c0c0c0"/>
<rect x="630" y="523" width="3" height="1" fill="#c0c0c0"/>
<rect x="636" y="523" width="3" height="1" fill="#c0c0c0"/>
<rect x="642" y="523" width="3" height="1" fill="#c0c0c0"/>
<rect x="648" y="523" width="3" height="1" fill="#c0c0c0"/>
<rect x="654" y="523" width="3" height="1" fill="#c0c0c0"/>
<rect x="660" y="523" width="3" height="1" fill="#c0c0c0"/>
<rect x="666" y="523" width="3" height="1" fill="#c0c0c0"/>
<rect x="672" y="523" width="3" height="1" fill="#c0c0c0"/>
<rect x="678" y="523" width="3" height="1" fill="#c0c0c0"/>
<rect x="684" y="523" width="3" height="1" fill="#c0c0c0"/>
<rect x="690" y="523" width="3" height="1" fill="#c0c0c0"/>
<rect x="696" y="523" width="3" height="1" fill="#c0c0c0"/>
<rect x="702" y="523" width="3" height="1" fill="#c0c0c0"/>
<rect x="708" y="523" width="3" height="1" fill="#c0c0c0"/>
<rect x="714" y="523" width="3" height="1" fill="#c0c0c0"/>
<rect x="720" y="523" width="3" height="1" fill="#c0c0c0"/>
<rect x="726" y="523" width="3" height="1" fill="#c0c0c0"/>
<rect x="732" y="523" width="3" height="1" fill="#c0c0c0"/>
<rect x="738" y="523" width="3" height="1" fill="#c0c0c0"/>
<rect x="744" y="523" width="3" height="1" fill="#c0c0c0"/>
<rect x="750" y="523" width="3" height="1" fill="#c0c0c0"/>
<rect x="756" y="523" width="3" height="1" fill="#c0c0c0"/>
<rect x="762" y="523" width="3" height="1" fill="#c0c0c0"/>
<rect x="768" y="523" width="3" height="1" fill="#c0c0c0"/>
<rect x="774" y="523" width="3" height="1" fill="#c0c0c0"/>
<rect x="780" y="523" width="3" height="1" fill="#c0c0c0"/>
<rect x="786" y="523" width="3" height="1" fill="#c0c0c0"/>
<rect x="792" y="523" width="3" height="1" fill="#c0c0c0"/>
<rect x="798" y="523" width="3" height="1" fill="#c0c0c0"/>
<rect x="804" y="523" width="3" height="1" fill="#c0c0c0"/>
<rect x="810" y="523" width="3" height="1" fill="#c0c0c0"/>
<rect x="816" y="523" width="3" height="1" fill="#c0c0c0"/>
<rect x="822" y="523" width="3" height="1" fill="#c0c0c0"/>
<rect x="828" y="523" width="3" height="1" fill="#c0c0c0"/>
<rect x="834" y="523" width="3" height="1" fill="#c0c0c0"/>
<rect x="840" y="523" width="3" height="1" fill="#c0c0c0"/>
<rect x="846" y="523" width="3" height="1" fill="#c0c0c0"/>
<rect x="852" y="523" width="3" height="1" fill="#c0c0c0"/>
<rect x="858" y="523" width="3" height="1" fill="#c0c0c0"/>
<rect x="864" y="523" width="3" height="1" fill="#c0c0c0"/>
<rect x="870" y="523" width="3" height="1" fill="#c0c0c0"/>
<rect x="876" y="523" width="3" height="1" fill="#c0c0c0"/>
<rect x="882" y="523" width="3" height="1" fill="#c0c0c0"/>
<rect x="888" y="523" width="3" height="1" fill="#c0c0c0"/>
<rect x="894" y="523" width="3" height="1" fill="#c0c0c0"/>
<rect x="900" y="523" width="3" height="1" fill="#c0c0c0"/>
<rect x="906" y="523" width="3" height="1" fill="#c0c0c0"/>
<rect x="912" y="523" width="3" height="1" fill="#c0c0c0"/>
<rect x="918" y="523" width="3" height="1" fill="#c0c0c0"/>
<rect x="924" y="523" width="3" height="1" fill="#c0c0c0"/>
<rect x="930" y="523" width="3" height="1" fill="#c0c0c0"/>
<rect x="936" y="523" width="3" height="1" fill="#c0c0c0"/>
<rect x="942" y="523" width="3" height="1" fill="#c0c0c0"/>
<rect x="948" y="523" width="3" height="1" fill="#c0c0c0"/>
<rect x="954" y="523" width="3" height="1" fill="#c0c0c0"/>
<rect x="960" y="523" width="3" height="1" fill="#c0c0c0"/>
<rect x="966" y="523" width="3" height="1" fill="#c0c0c0"/>
<rect x="972" y="523" width="3" height="1" fill="#c0c0c0"/>
<rect x="978" y="523" width="3" height="1" fill="#c0c0c0"/>
<rect x="984" y="523" width="3" height="1" fill="#c0c0c0"/>
<rect x="990" y="523" width="3" height="1" fill="#c0c0c0"/>
<rect x="996" y="523" width="3" height="1" fill="#c0c0c0"/>
<rect x="1002" y="523" width="3" height="1" fill="#c0c0c0"/>
<rect x="1008" y="523" width="3" height="1" fill="#c0c0c0"/>
<rect x="1014" y="523" width="3" height="1" fill="#c0c0c0"/>
<rect x="1020" y="523" width="3" height="1" fill="#c0c0c0"/>
<rect x="1026" y="523" width="3" height="1" fill="#c0c0c0"/>
<rect x="1032" y="523" width="3" height="1" fill="#c0c0c0"/>
<rect x="1038" y="523" width="3" height="1" fill="#c0c0c0"/>
<rect x="1044" y="523" width="3" height="1" fill="#c0c0c0"/>
<rect x="1050" y="523" width="3" height="1" fill="#c0c0c0"/>
<rect x="1056" y="523" width="3" height="1" fill="#c0c0c0"/>
<rect x="1062" y="523" width="3" height="1" fill="#c0c0c0"/>
<rect x="1068" y="523" width="3" height="1" fill="#c0c0c0"/>
<rect x="1074" y="523" width="3" height="1" fill="#c0c0c0"/>
<rect x="1080" y="523" width="3" height="1" fill="#c0c0c0"/>
<rect x="1086" y="523" width="3" height="1" fill="#c0c0c0"/>
<rect x="1092" y="523" width="3" height="1" fill="#c0c0c0"/>
<rect x="1098" y="523" width="3" height="1" fill="#c0c0c0"/>
<rect x="1104" y="523" width="3" height="1" fill="#c0c0c0"/>
<rect x="1110" y="523" width="3" height="1" fill="#c0c0c0"/>
<rect x="1116" y="523" width="3" height="1" fill="#c0c0c0"/>
<rect x="1122" y="523" width="3" height="1" fill="#c0c0c0"/>
<rect x="1128" y="523" width="3" height="1" fill="#c0c0c0"/>
<rect x="1134" y="523" width="3" height="1" fill="#c0c0c0"/>
<rect x="1140" y="523" width="3" height="1" fill="#c0c0c0"/>
<rect x="1146" y="523" width="3" height="1" fill="#c0c0c0"/>
<rect x="1152" y="523" width="3" height="1" fill="#c0c0c0"/>
<rect x="6" y="564" width="3" height="1" fill="#c0c0c0"/>
<rect x="12" y="564" width="3" height="1" fill="#c0c0c0"/>
<rect x="18" y="564" width="3" height="1" fill="#c0c0c0"/>
<rect x="24" y="564" width="3" height="1" fill="#c0c0c0"/>
<rect x="30" y="564" width="3" height="1" fill="#c0c0c0"/>
<rect x="36" y="564" width="3" height="1" fill="#c0c0c0"/>
<rect x="42" y="564" width="3" height="1" fill="#c0c0c0"/>
<rect x="48" y="564" width="3" height="1" fill="#c0c0c0"/>
<rect x="54" y="564" width="3" height="1" fill="#c0c0c0"/>
<rect x="60" y="564" width="3" height="1" fill="#c0c0c0"/>
<rect x="66" y="564" width="3" height="1" fill="#c0c0c0"/>
<rect x="72" y="564" width="3" height="1" fill="#c0c0c0"/>
<rect x="78" y="564" width="3" height="1" fill="#c0c0c0"/>
<rect x="84" y="564" width="3" height="1" fill="#c0c0c0"/>
<rect x="90" y="564" width="3" height="1" fill="#c0c0c0"/>
<rect x="96" y="564" width="3" height="1" fill="#c0c0c0"/>
<rect x="102" y="564" width="3" height="1" fill="#c0c0c0"/>
<rect x="108" y="564" width="3" height="1" fill="#c0c0c0"/>
<rect x="114" y="564" width="3" height="1" fill="#c0c0c0"/>
<rect x="120" y="564" width="3" height="1" fill="#c0c0c0"/>
<rect x="126" y="564" width="3" height="1" fill="#c0c0c0"/>
<rect x="132" y="564" width="3" height="1" fill="#c0c0c0"/>
<rect x="138" y="564" width="3" height="1" fill="#c0c0c0"/>
<rect x="144" y="564" width="3" height="1" fill="#c0c0c0"/>
<rect x="150" y="564" width="3" height="1" fill="#c0c0c0"/>
<rect x="156" y="564" width="3" height="1" fill="#c0c0c0"/>
<rect x="162" y="564" width="3" height="1" fill="#c0c0c0"/>
<rect x="168" y="564" width="3" height="1" fill="#c0c0c0"/>
<rect x="174" y="564" width="3" height="1" fill="#c0c0c0"/>
<rect x="180" y="564" width="3" height="1" fill="#c0c0c0"/>
<rect x="186" y="564" width="3" height="1" fill="#c0c0c0"/>
<rect x="192" y="564" width="3" height="1" fill="#c0c0c0"/>
<rect x="198" y="564" width="3" height="1" fill="#c0c0c0"/>
<rect x="204" y="564" width="3" height="1" fill="#c0c0c0"/>
<rect x="210" y="564" width="3" height="1" fill="#c0c0c0"/>
<rect x="216" y="564" width="3" height="1" fill="#c0c0c0"/>
<rect x="222" y="564" width="3" height="1" fill="#c0c0c0"/>
<rect x="228" y="564" width="3" height="1" fill="#c0c0c0"/>
<rect x="234" y="564" width="3" height="1" fill="#c0c0c0"/>
<rect x="240" y="564" width="3" height="1" fill="#c0c0c0"/>
<rect x="246" y="564" width="3" height="1" fill="#c0c0c0"/>
<rect x="252" y="564" width="3" height="1" fill="#c0c0c0"/>
<rect x="258" y="564" width="3" height="1" fill="#c0c0c0"/>
<rect x="264" y="564" width="3" height="1" fill="#c0c0c0"/>
<rect x="270" y="564" width="3" height="1" fill="#c0c0c0"/>
<rect x="276" y="564" width="3" height="1" fill="#c0c0c0"/>
<rect x="282" y="564" width="3" height="1" fill="#c0c0c0"/>
<rect x="288" y="564" width="3" height="1" fill="#c0c0c0"/>
<rect x="294" y="564" width="3" height="1" fill="#c0c0c0"/>
<rect x="300" y="564" width="3" height="1" fill="#c0c0c0"/>
<rect x="306" y="564" width="3" height="1" fill="#c0c0c0"/>
<rect x="312" y="564" width="3" height="1" fill="#c0c0c0"/>
<rect x="318" y="564" width="3" height="1" fill="#c0c0c0"/>
<rect x="324" y="564" width="3" height="1" fill="#c0c0c0"/>
<rect x="330" y="564" width="3" height="1" fill="#c0c0c0"/>
<rect x="336" y="564" width="3" height="1" fill="#c0c0c0"/>
<rect x="342" y="564" width="3" height="1" fill="#c0c0c0"/>
<rect x="348" y="564" width="3" height="1" fill="#c0c0c0"/>
<rect x="354" y="564" width="3" height="1" fill="#c0c0c0"/>
<rect x="360" y="564" width="3" height="1" fill="#c0c0c0"/>
<rect x="366" y="564" width="3" height="1" fill="#c0c0c0"/>
<rect x="372" y="564" width="3" height="1" fill="#c0c0c0"/>
<rect x="378" y="564" width="3" height="1" fill="#c0c0c0"/>
<rect x="384" y="564" width="3" height="1" fill="#c0c0c0"/>
<rect x="390" y="564" width="3" height="1" fill="#c0c0c0"/>
<rect x="396" y="564" width="3" height="1" fill="#c0c0c0"/>
<rect x="402" y="564" width="3" height="1" fill="#c0c0c0"/>
<rect x="408" y="564" width="3" height="1" fill="#c0c0c0"/>
<rect x="414" y="564" width="3" height="1" fill="#c0c0c0"/>
<rect x="420" y="564" width="3" height="1" fill="#c0c0c0"/>
<rect x="426" y="564" width="3" height="1" fill="#c0c0c0"/>
<rect x="432" y="564" width="3" height="1" fill="#c0c0c0"/>
<rect x="438" y="564" width="3" height="1" fill="#c0c0c0"/>
<rect x="444" y="564" width="3" height="1" fill="#c0c0c0"/>
<rect x="450" y="564" width="3" height="1" fill="#c0c0c0"/>
<rect x="456" y="564" width="3" height="1" fill="#c0c0c0"/>
<rect x="462" y="564" width="3" height="1" fill="#c0c0c0"/>
<rect x="468" y="564" width="3" height="1" fill="#c0c0c0"/>
<rect x="474" y="564" width="3" height="1" fill="#c0c0c0"/>
<rect x="480" y="564" width="3" height="1" fill="#c0c0c0"/>
<rect x="486" y="564" width="3" height="1" fill="#c0c0c0"/>
<rect x="492" y="564" width="3" height="1" fill="#c0c0c0"/>
<rect x="498" y="564" width="3" height="1" fill="#c0c0c0"/>
<rect x="504" y="564" width="3" height="1" fill="#c0c0c0"/>
<rect x="510" y="564" width="3" height="1" fill="#c0c0c0"/>
<rect x="516" y="564" width="3" height="1" fill="#c0c0c0"/>
<rect x="522" y="564" width="3" height="1" fill="#c0c0c0"/>
<rect x="528" y="564" width="3" height="1" fill="#c0c0c0"/>
<rect x="534" y="564" width="3" height="1" fill="#c0c0c0"/>
<rect x="540" y="564" width="3" height="1" fill="#c0c0c0"/>
<rect x="546" y="564" width="3" height="1" fill="#c0c0c0"/>
<rect x="552" y="564" width="3" height="1" fill="#c0c0c0"/>
<rect x="558" y="564" width="3" height="1" fill="#c0c0c0"/>
<rect x="564" y="564" width="3" height="1" fill="#c0c0c0"/>
<rect x="570" y="564" width="3" height="1" fill="#c0c0c0"/>
<rect x="576" y="564" width="3" height="1" fill="#c0c0c0"/>
<rect x="582" y="564" width="3" height="1" fill="#c0c0c0"/>
<rect x="588" y="564" width="3" height="1" fill="#c0c0c0"/>
<rect x="594" y="564" width="3" height="1" fill="#c0c0c0"/>
<rect x="600" y="564" width="3" height="1" fill="#c0c0c0"/>
<rect x="606" y="564" width="3" height="1" fill="#c0c0c0"/>
<rect x="612" y="564" width="3" height="1" fill="#c0c0c0"/>
<rect x="618" y="564" width="3" height="1" fill="#c0c0c0"/>
<rect x="624" y="564" width="3" height="1" fill="#c0c0c0"/>
<rect x="630" y="564" width="3" height="1" fill="#c0c0c0"/>
<rect x="636" y="564" width="3" height="1" fill="#c0c0c0"/>
<rect x="642" y="564" width="3" height="1" fill="#c0c0c0"/>
<rect x="648" y="564" width="3" height="1" fill="#c0c0c0"/>
<rect x="654" y="564" width="3" height="1" fill="#c0c0c0"/>
<rect x="660" y="564" width="3" height="1" fill="#c0c0c0"/>
<rect x="666" y="564" width="3" height="1" fill="#c0c0c0"/>
<rect x="672" y="564" width="3" height="1" fill="#c0c0c0"/>
<rect x="678" y="564" width="3" height="1" fill="#c0c0c0"/>
<rect x="684" y="564" width="3" height="1" fill="#c0c0c0"/>
<rect x="690" y="564" width="3" height="1" fill="#c0c0c0"/>
<rect x="696" y="564" width="3" height="1" fill="#c0c0c0"/>
<rect x="702" y="564" width="3" height="1" fill="#c0c0c0"/>
<rect x="708" y="564" width="3" height="1" fill="#c0c0c0"/>
<rect x="714" y="564" width="3" height="1" fill="#c0c0c0"/>
<rect x="720" y="564" width="3" height="1" fill="#c0c0c0"/>
<rect x="726" y="564" width="3" height="1" fill="#c0c0c0"/>
<rect x="732" y="564" width="3" height="1" fill="#c0c0c0"/>
<rect x="738" y="564" width="3" height="1" fill="#c0c0c0"/>
<rect x="744" y="564" width="3" height="1" fill="#c0c0c0"/>
<rect x="750" y="564" width="3" height="1" fill="#c0c0c0"/>
<rect x="756" y="564" width="3" height="1" fill="#c0c0c0"/>
<rect x="762" y="564" width="3" height="1" fill="#c0c0c0"/>
<rect x="768" y="564" width="3" height="1" fill="#c0c0c0"/>
<rect x="774" y="564" width="3" height="1" fill="#c0c0c0"/>
<rect x="780" y="564" width="3" height="1" fill="#c0c0c0"/>
<rect x="786" y="564" width="3" height="1" fill="#c0c0c0"/>
<rect x="792" y="564" width="3" height="1" fill="#c0c0c0"/>
<rect x="798" y="564" width="3" height="1" fill="#c0c0c0"/>
<rect x="804" y="564" width="3" height="1" fill="#c0c0c0"/>
<rect x="810" y="564" width="3" height="1" fill="#c0c0c0"/>
<rect x="816" y="564" width="3" height="1" fill="#c0c0c0"/>
<rect x="822" y="564" width="3" height="1" fill="#c0c0c0"/>
<rect x="828" y="564" width="3" height="1" fill="#c0c0c0"/>
<rect x="834" y="564" width="3" height="1" fill="#c0c0c0"/>
<rect x="840" y="564" width="3" height="1" fill="#c0c0c0"/>
<rect x="846" y="564" width="3" height="1" fill="#c0c0c0"/>
<rect x="852" y="564" width="3" height="1" fill="#c0c0c0"/>
<rect x="858" y="564" width="3" height="1" fill="#c0c0c0"/>
<rect x="864" y="564" width="3" height="1" fill="#c0c0c0"/>
<rect x="870" y="564" width="3" height="1" fill="#c0c0c0"/>
<rect x="876" y="564" width="3" height="1" fill="#c0c0c0"/>
<rect x="882" y="564" width="3" height="1" fill="#c0c0c0"/>
<rect x="888" y="564" width="3" height="1" fill="#c0c0c0"/>
<rect x="894" y="564" width="3" height="1" fill="#c0c0c0"/>
<rect x="900" y="564" width="3" height="1" fill="#c0c0c0"/>
<rect x="906" y="564" width="3" height="1" fill="#c0c0c0"/>
<rect x="912" y="564" width="3" height="1" fill="#c0c0c0"/>
<rect x="918" y="564" width="3" height="1" fill="#c0c0c0"/>
<rect x="924" y="564" width="3" height="1" fill="#c0c0c0"/>
<rect x="930" y="564" width="3" height="1" fill="#c0c0c0"/>
<rect x="936" y="564" width="3" height="1" fill="#c0c0c0"/>
<rect x="942" y="564" width="3" height="1" fill="#c0c0c0"/>
<rect x="948" y="564" width="3" height="1" fill="#c0c0c0"/>
<rect x="954" y="564" width="3" height="1" fill="#c0c0c0"/>
<rect x="960" y="564" width="3" height="1" fill="#c0c0c0"/>
<rect x="966" y="564" width="3" height="1" fill="#c0c0c0"/>
<rect x="972" y="564" width="3" height="1" fill="#c0c0c0"/>
<rect x="978" y="564" width="3" height="1" fill="#c0c0c0"/>
<rect x="984" y="564" width="3" height="1" fill="#c0c0c0"/>
<rect x="990" y="564" width="3" height="1" fill="#c0c0c0"/>
<rect x="996" y="564" width="3" height="1" fill="#c0c0c0"/>
<rect x="1002" y="564" width="3" height="1" fill="#c0c0c0"/>
<rect x="1008" y="564" width="3" height="1" fill="#c0c0c0"/>
<rect x="1014" y="564" width="3" height="1" fill="#c0c0c0"/>
<rect x="1020" y="564" width="3" height="1" fill="#c0c0c0"/>
<rect x="1026" y="564" width="3" height="1" fill="#c0c0c0"/>
<rect x="1032" y="564" width="3" height="1" fill="#c0c0c0"/>
<rect x="1038" y="564" width="3" height="1" fill="#c0c0c0"/>
<rect x="1044" y="564" width="3" height="1" fill="#c0c0c0"/>
<rect x="1050" y="564" width="3" height="1" fill="#c0c0c0"/>
<rect x="1056" y="564" width="3" height="1" fill="#c0c0c0"/>
<rect x="1062" y="564" width="3" height="1" fill="#c0c0c0"/>
<rect x="1068" y="564" width="3" height="1" fill="#c0c0c0"/>
<rect x="1074" y="564" width="3" height="1" fill="#c0c0c0"/>
<rect x="1080" y="564" width="3" height="1" fill="#c0c0c0"/>
<rect x="1086" y="564" width="3" height="1" fill="#c0c0c0"/>
<rect x="1092" y="564" width="3" height="1" fill="#c0c0c0"/>
<rect x="1098" y="564" width="3" height="1" fill="#c0c0c0"/>
<rect x="1104" y="564" width="3" height="1" fill="#c0c0c0"/>
<rect x="1110" y="564" width="3" height="1" fill="#c0c0c0"/>
<rect x="1116" y="564" width="3" height="1" fill="#c0c0c0"/>
<rect x="1122" y="564" width="3" height="1" fill="#c0c0c0"/>
<rect x="1128" y="564" width="3" height="1" fill="#c0c0c0"/>
<rect x="1134" y="564" width="3" height="1" fill="#c0c0c0"/>
<rect x="1140" y="564" width="3" height="1" fill="#c0c0c0"/>
<rect x="1146" y="564" width="3" height="1" fill="#c0c0c0"/>
<rect x="1152" y="564" width="3" height="1" fill="#c0c0c0"/>
<polyline points="5.5,552.0 13.5,549.0 21.5,550.7 29.5,556.5 37.5,558.2 45.5,559.2 53.5,555.2 61.5,555.0 69.5,553.0 77.5,556.2 85.5,546.8 93.5,550.5 101.5,533.0 109.5,532.0 117.5,533.8 125.5,532.1 133.5,529.2 141.5,523.4 149.5,522.0 157.5,531.0 165.5,535.2 173.5,539.6 181.5,538.9 189.5,537.8 197.5,532.5 205.5,526.5 213.5,523.8 221.5,529.2 229.5,537.8 237.5,536.8 245.5,539.6 253.5,542.9 261.5,543.8 269.5,542.1 277.5,544.9 285.5,544.9 293.5,530.9 301.5,532.5 309.5,532.9 317.5,525.8 325.5,526.9 333.5,542.1 341.5,549.8 349.5,548.9 357.5,549.8 365.5,553.8 373.5,550.5 381.5,546.1 389.5,546.9 397.5,553.8 405.5,552.9 413.5,551.8 421.5,553.8 429.5,552.9 437.5,560.5 445.5,565.4 453.5,567.8 461.5,566.8 469.5,567.8 477.5,563.8 485.5,566.8 493.5,564.5 501.5,561.8 509.5,562.8 517.5,562.8 525.5,567.8 533.5,567.8 541.5,545.2 549.5,543.2 557.5,539.8 565.5,540.8 573.5,535.8 581.5,532.8 589.5,530.9 597.5,530.9 605.5,530.9 613.5,530.9 621.5,537.2 629.5,541.6 637.5,536.8 645.5,540.8 653.5,543.8 661.5,546.9 669.5,547.8 677.5,552.8 685.5,540.8 693.5,539.2 701.5,540.8 709.5,543.8 717.5,537.2 725.5,525.8 733.5,531.8 741.5,532.9 749.5,537.8 757.5,535.8 765.5,549.8 773.5,552.9 781.5,554.9 789.5,554.9 797.5,556.9 805.5,552.9 813.5,550.1 821.5,551.8 829.5,547.8 837.5,544.9 845.5,544.9 853.5,544.9 861.5,540.8 869.5,551.8 877.5,544.9 885.5,544.9 893.5,540.1 901.5,540.1 909.5,538.9" fill="none" stroke="#1e90ff" stroke-width="1"/>
</g>
<text x="9.40" y="503.00" font-size="10.1" fill="#000" stroke="#000" stroke-width="0.22" font-family="Liberation Sans, sans-serif" textLength="68.20" lengthAdjust="spacingAndGlyphs">RSI(14) 55.0306</text>
<rect x="1156" y="492" width="2" height="1" fill="#000"/>
<rect x="1156" y="596" width="2" height="1" fill="#000"/>
<text x="1159.40" y="501.00" font-size="10.1" fill="#000" stroke="#000" stroke-width="0.22" font-family="Liberation Sans, sans-serif" textLength="15.20" lengthAdjust="spacingAndGlyphs">100</text>
<text x="1157.40" y="527.00" font-size="10.1" fill="#000" stroke="#000" stroke-width="0.22" font-family="Liberation Sans, sans-serif" textLength="11.20" lengthAdjust="spacingAndGlyphs">70</text>
<text x="1157.40" y="568.00" font-size="10.1" fill="#000" stroke="#000" stroke-width="0.22" font-family="Liberation Sans, sans-serif" textLength="11.20" lengthAdjust="spacingAndGlyphs">30</text>
<text x="1158.40" y="593.00" font-size="10.1" fill="#000" stroke="#000" stroke-width="0.22" font-family="Liberation Sans, sans-serif" textLength="5.20" lengthAdjust="spacingAndGlyphs">0</text>
<rect x="5" y="597" width="1" height="3" fill="#000"/>
<text x="4.40" y="609.00" font-size="10.1" fill="#000" stroke="#000" stroke-width="0.22" font-family="Liberation Sans, sans-serif" textLength="51.20" lengthAdjust="spacingAndGlyphs">18 Oct 2018</text>
<rect x="69" y="597" width="1" height="3" fill="#000"/>
<text x="67.40" y="609.00" font-size="10.1" fill="#000" stroke="#000" stroke-width="0.22" font-family="Liberation Sans, sans-serif" textLength="52.20" lengthAdjust="spacingAndGlyphs">27 Oct 2018</text>
<rect x="133" y="597" width="1" height="3" fill="#000"/>
<text x="131.40" y="609.00" font-size="10.1" fill="#000" stroke="#000" stroke-width="0.22" font-family="Liberation Sans, sans-serif" textLength="51.20" lengthAdjust="spacingAndGlyphs">6 Nov 2018</text>
<rect x="197" y="597" width="1" height="3" fill="#000"/>
<text x="196.40" y="609.00" font-size="10.1" fill="#000" stroke="#000" stroke-width="0.22" font-family="Liberation Sans, sans-serif" textLength="54.20" lengthAdjust="spacingAndGlyphs">15 Nov 2018</text>
<rect x="261" y="597" width="1" height="3" fill="#000"/>
<text x="259.40" y="609.00" font-size="10.1" fill="#000" stroke="#000" stroke-width="0.22" font-family="Liberation Sans, sans-serif" textLength="55.20" lengthAdjust="spacingAndGlyphs">24 Nov 2018</text>
<rect x="325" y="597" width="1" height="3" fill="#000"/>
<text x="323.40" y="609.00" font-size="10.1" fill="#000" stroke="#000" stroke-width="0.22" font-family="Liberation Sans, sans-serif" textLength="48.20" lengthAdjust="spacingAndGlyphs">4 Dec 2018</text>
<rect x="389" y="597" width="1" height="3" fill="#000"/>
<text x="388.40" y="609.00" font-size="10.1" fill="#000" stroke="#000" stroke-width="0.22" font-family="Liberation Sans, sans-serif" textLength="52.20" lengthAdjust="spacingAndGlyphs">13 Dec 2018</text>
<rect x="453" y="597" width="1" height="3" fill="#000"/>
<text x="452.40" y="609.00" font-size="10.1" fill="#000" stroke="#000" stroke-width="0.22" font-family="Liberation Sans, sans-serif" textLength="52.20" lengthAdjust="spacingAndGlyphs">22 Dec 2018</text>
<rect x="517" y="597" width="1" height="3" fill="#000"/>
<text x="516.40" y="609.00" font-size="10.1" fill="#000" stroke="#000" stroke-width="0.22" font-family="Liberation Sans, sans-serif" textLength="45.20" lengthAdjust="spacingAndGlyphs">1 Jan 2019</text>
<rect x="581" y="597" width="1" height="3" fill="#000"/>
<text x="579.40" y="609.00" font-size="10.1" fill="#000" stroke="#000" stroke-width="0.22" font-family="Liberation Sans, sans-serif" textLength="51.20" lengthAdjust="spacingAndGlyphs">10 Jan 2019</text>
<rect x="645" y="597" width="1" height="3" fill="#000"/>
<text x="643.40" y="609.00" font-size="10.1" fill="#000" stroke="#000" stroke-width="0.22" font-family="Liberation Sans, sans-serif" textLength="51.20" lengthAdjust="spacingAndGlyphs">19 Jan 2019</text>
<rect x="709" y="597" width="1" height="3" fill="#000"/>
<text x="707.40" y="609.00" font-size="10.1" fill="#000" stroke="#000" stroke-width="0.22" font-family="Liberation Sans, sans-serif" textLength="51.20" lengthAdjust="spacingAndGlyphs">29 Jan 2019</text>
<rect x="773" y="597" width="1" height="3" fill="#000"/>
<text x="771.40" y="609.00" font-size="10.1" fill="#000" stroke="#000" stroke-width="0.22" font-family="Liberation Sans, sans-serif" textLength="48.20" lengthAdjust="spacingAndGlyphs">7 Feb 2019</text>
<rect x="837" y="597" width="1" height="3" fill="#000"/>
<text x="835.40" y="609.00" font-size="10.1" fill="#000" stroke="#000" stroke-width="0.22" font-family="Liberation Sans, sans-serif" textLength="53.20" lengthAdjust="spacingAndGlyphs">16 Feb 2019</text>
<rect x="901" y="597" width="1" height="3" fill="#000"/>
<text x="899.40" y="609.00" font-size="10.1" fill="#000" stroke="#000" stroke-width="0.22" font-family="Liberation Sans, sans-serif" textLength="53.20" lengthAdjust="spacingAndGlyphs">26 Feb 2019</text>
<rect x="0" y="619" width="1200" height="1" fill="#000"/>
<rect x="1" y="620" width="1" height="18" fill="#696969"/>
<rect x="2" y="620" width="1" height="18" fill="#ffffff"/>
<rect x="2" y="620" width="1198" height="1" fill="#ffffff"/>
<rect x="0" y="639" width="1200" height="1" fill="#ffffff"/>
<rect x="0" y="641" width="1200" height="1" fill="#f4f4f4"/>
<rect x="0" y="642" width="1200" height="1" fill="#f7f7f7"/>
<rect x="0" y="643" width="1200" height="1" fill="#a0a0a0"/>
<rect x="0" y="644" width="1200" height="1" fill="#ffffff"/>
<rect x="110" y="619" width="104" height="19" fill="#ffffff"/>
<rect x="110" y="619" width="1" height="19" fill="#000"/>
<rect x="213" y="619" width="1" height="19" fill="#000"/>
<rect x="110" y="637" width="104" height="1" fill="#000"/>
<text x="18.40" y="634.00" font-size="13" fill="#666666" stroke="#666666" stroke-width="0.15" font-family="Liberation Sans, sans-serif" textLength="79.20" lengthAdjust="spacingAndGlyphs">EURUSD,Daily</text>
<text x="121.40" y="634.00" font-size="13" fill="#000" stroke="#000" stroke-width="0.15" font-family="Liberation Sans, sans-serif" textLength="81.20" lengthAdjust="spacingAndGlyphs">AUDUSD,Daily</text>
<text x="223.40" y="634.00" font-size="13" fill="#666666" stroke="#666666" stroke-width="0.15" font-family="Liberation Sans, sans-serif" textLength="79.20" lengthAdjust="spacingAndGlyphs">USDCHF,Daily</text>
<text x="323.40" y="634.00" font-size="13" fill="#666666" stroke="#666666" stroke-width="0.15" font-family="Liberation Sans, sans-serif" textLength="95.20" lengthAdjust="spacingAndGlyphs">USDCAD,Weekly</text>
<text x="440.40" y="634.00" font-size="13" fill="#666666" stroke="#666666" stroke-width="0.15" font-family="Liberation Sans, sans-serif" textLength="71.20" lengthAdjust="spacingAndGlyphs">USDCNH,H4</text>
<text x="532.40" y="634.00" font-size="13" fill="#666666" stroke="#666666" stroke-width="0.15" font-family="Liberation Sans, sans-serif" textLength="74.20" lengthAdjust="spacingAndGlyphs">USDJPY,Daily</text>
<text x="628.40" y="634.00" font-size="13" fill="#666666" stroke="#666666" stroke-width="0.15" font-family="Liberation Sans, sans-serif" textLength="81.20" lengthAdjust="spacingAndGlyphs">XAUUSD,Daily</text>
<text x="732.40" y="634.00" font-size="13" fill="#666666" stroke="#666666" stroke-width="0.15" font-family="Liberation Sans, sans-serif" textLength="98.20" lengthAdjust="spacingAndGlyphs">GBPUSD,Monthly</text>
<text x="853.40" y="634.00" font-size="13" fill="#666666" stroke="#666666" stroke-width="0.15" font-family="Liberation Sans, sans-serif" textLength="65.20" lengthAdjust="spacingAndGlyphs">SP500,M15</text>
<text x="941.40" y="634.00" font-size="13" fill="#666666" stroke="#666666" stroke-width="0.15" font-family="Liberation Sans, sans-serif" textLength="69.20" lengthAdjust="spacingAndGlyphs">GBPUSD,H1</text>
<text x="1031.40" y="634.00" font-size="13" fill="#666666" stroke="#666666" stroke-width="0.15" font-family="Liberation Sans, sans-serif" textLength="48.20" lengthAdjust="spacingAndGlyphs">DJ30,H4</text>
<text x="1099.40" y="634.00" font-size="13" fill="#666666" stroke="#666666" stroke-width="0.15" font-family="Liberation Sans, sans-serif" textLength="65.20" lengthAdjust="spacingAndGlyphs">TECH100,H</text>
<rect x="314" y="622" width="1" height="15" fill="#5f5f5f"/>
<rect x="430" y="622" width="1" height="15" fill="#5f5f5f"/>
<rect x="522" y="622" width="1" height="15" fill="#5f5f5f"/>
<rect x="619" y="622" width="1" height="15" fill="#5f5f5f"/>
<rect x="722" y="622" width="1" height="15" fill="#5f5f5f"/>
<rect x="842" y="622" width="1" height="15" fill="#5f5f5f"/>
<rect x="930" y="622" width="1" height="15" fill="#5f5f5f"/>
<rect x="1022" y="622" width="1" height="15" fill="#5f5f5f"/>
<rect x="1090" y="622" width="1" height="15" fill="#5f5f5f"/>
<polygon points="1170.5,628 1174.5,624 1174.5,632" fill="#8c8c8c"/>
<polygon points="1193,628 1190,624.5 1190,631.5" fill="#000"/>
</svg>
</body></html>
